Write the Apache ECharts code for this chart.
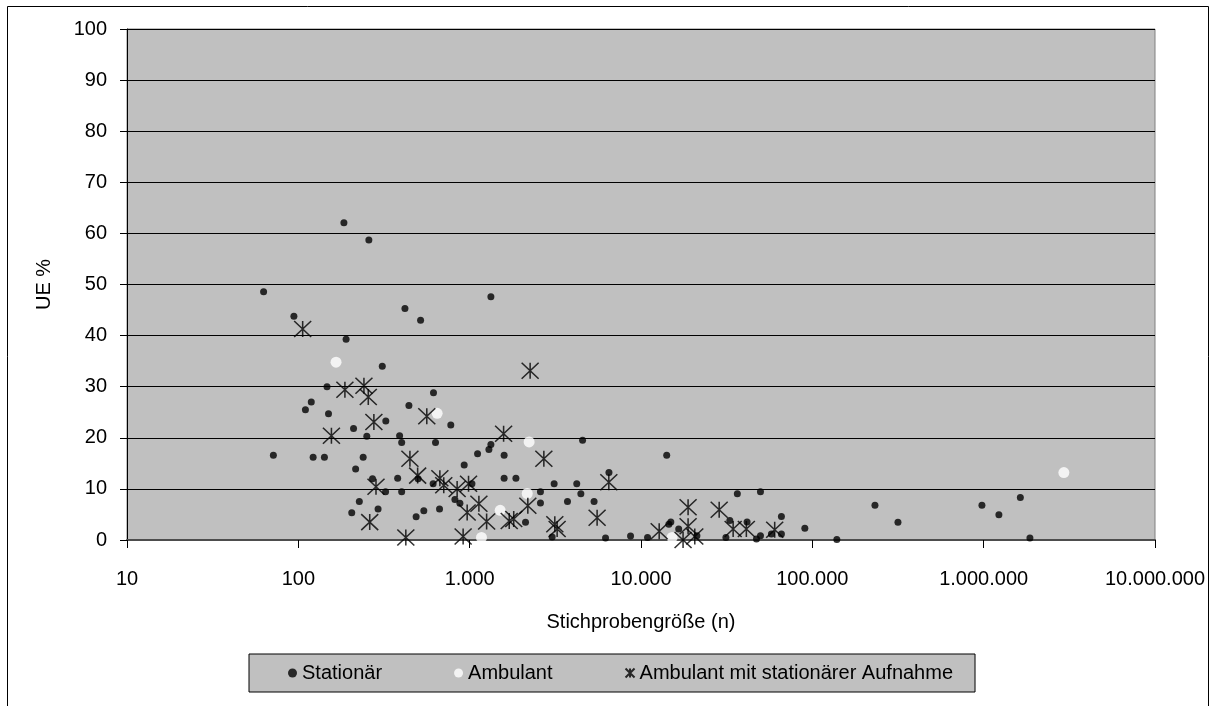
<!DOCTYPE html>
<html><head><meta charset="utf-8">
<script src="https://cdn.jsdelivr.net/npm/echarts@6/dist/echarts.min.js"></script>
<style>html,body{margin:0;padding:0;background:#fff}#c{width:1215px;height:706px}</style>
</head><body><div id="c"></div>
<script>
// ---- data ----
const seriesNames = ['Stationär', 'Ambulant', 'Ambulant mit stationärer Aufnahme'];
const xAxisTitle = 'Stichprobengröße (n)';
const yAxisTitle = 'UE %';
const xTickLabels = ['10', '100', '1.000', '10.000', '100.000', '1.000.000', '10.000.000'];
const yTickValues = [0, 10, 20, 30, 40, 50, 60, 70, 80, 90, 100];

// [Stichprobengröße n, UE %]
const stationaer = [
  [62.7, 48.6], [94.2, 43.8], [190, 39.3], [309, 34.0], [419, 45.3], [517, 43.0],
  [147, 30.0], [119, 27.0], [110, 25.5], [150, 24.7], [615, 28.8], [442, 26.3],
  [776, 22.5], [324, 23.3], [210, 21.8], [251, 20.3], [390, 20.4], [401, 19.1],
  [632, 19.1], [71.5, 16.6], [122, 16.2], [142, 16.2], [239, 16.2], [216, 13.9],
  [929, 14.7], [1112, 16.9], [500, 12.0], [271, 12.0], [380, 12.1], [612, 11.0],
  [1031, 11.0], [323, 9.45], [401, 9.45], [820, 7.95], [877, 7.2], [227, 7.55],
  [667, 6.07], [540, 5.73], [487, 4.56], [292, 6.07], [205, 5.34],
  [184.5, 62.1], [258, 58.7],
  [1330, 47.6], [1330, 18.7], [1295, 17.7], [4560, 19.5], [1589, 16.6], [14125, 16.6],
  [1589, 12.1], [1862, 12.1], [6500, 13.2], [3112, 11.0], [4217, 11.0], [4456, 9.06],
  [2589, 9.45], [2589, 7.24], [3724, 7.55], [5322, 7.55], [2118, 3.45], [3030, 0.6],
  [6210, 0.4], [8690, 0.8], [10920, 0.5], [14540, 3.1], [14930, 3.5], [16600, 2.15],
  [21200, 0.84], [33000, 3.8], [41600, 3.5], [36500, 9.06], [49800, 9.45], [31300, 0.5],
  [47200, 0.2], [49800, 0.84], [57700, 1.17], [66000, 1.17], [66000, 4.6], [90400, 2.3],
  [139000, 0.1], [232000, 6.8], [316000, 3.45], [977000, 6.8], [1227000, 4.95],
  [1637000, 8.3], [1862000, 0.4]
];
const ambulant = [
  [166, 34.8], [646, 24.8], [2223, 19.2], [2168, 9.1], [1507, 5.8], [1172, 0.5],
  [15190, 0.5], [2938000, 13.2]
];
const ambulantStationaer = [
  [106, 41.3], [187, 29.4], [241.5, 30.2], [256, 28.0], [562, 24.2], [276, 23.1],
  [156, 20.4], [448, 15.9], [497, 12.6], [670, 12.1], [706, 10.7], [845, 10.0],
  [985, 11.0], [284, 10.4], [967, 5.4], [261, 3.5], [424, 0.5], [916, 0.7],
  [2254, 33.1], [1578, 20.8], [2710, 15.9], [6488, 11.3], [2185, 6.7], [1132, 7.1],
  [1256, 3.6], [1702, 3.7], [1808, 4.1], [3140, 3.1], [3240, 2.15], [5544, 4.36],
  [12770, 1.7], [18830, 6.4], [18830, 2.7], [17600, 0], [20600, 0.7], [28600, 5.9],
  [34500, 2.15], [41200, 2.15], [60300, 2.0]
];

// ---- chart ----
const FONT = "'Liberation Sans', Arial, sans-serif";
const FS = 20;
const STAR = 'path://M0,0L16,16M16,0L0,16M8,0L8,16';
const chart = echarts.init(document.getElementById('c'), null, {renderer: 'canvas'});
chart.setOption({
  animation: false,
  backgroundColor: '#ffffff',
  graphic: [{
    type: 'rect', silent: true, z: 100,
    shape: {x: 7.5, y: 6.5, width: 1201, height: 730},
    style: {fill: 'none', stroke: '#000', lineWidth: 1}
  }],
  grid: {
    left: 127, right: 60, top: 29, bottom: 166, containLabel: false,
    show: true, backgroundColor: '#c0c0c0', borderColor: '#808080', borderWidth: 1
  },
  xAxis: {
    type: 'log', logBase: 10, min: 10, max: 10000000,
    name: xAxisTitle, nameLocation: 'middle', nameGap: 72,
    nameTextStyle: {fontFamily: FONT, fontSize: FS, color: '#000'},
    axisLine: {show: true, onZero: false, lineStyle: {color: '#4d4d4d', width: 2}},
    axisTick: {show: true, inside: false, length: 8, lineStyle: {color: '#000', width: 1}},
    minorTick: {show: false},
    splitLine: {show: false},
    axisLabel: {
      fontFamily: FONT, fontSize: FS, color: '#000', margin: 29,
      formatter: v => xTickLabels[Math.round(Math.log10(v)) - 1]
    }
  },
  yAxis: {
    type: 'value', min: yTickValues[0], max: yTickValues[yTickValues.length - 1], interval: 10,
    name: yAxisTitle, nameLocation: 'middle', nameGap: 73, nameRotate: 90,
    nameTextStyle: {fontFamily: FONT, fontSize: FS, color: '#000'},
    axisLine: {show: true, lineStyle: {color: '#000', width: 1}},
    axisTick: {show: true, inside: false, length: 7, lineStyle: {color: '#000', width: 1}},
    splitLine: {show: true, lineStyle: {color: '#000', width: 1}},
    axisLabel: {fontFamily: FONT, fontSize: FS, color: '#000', margin: 20}
  },
  legend: {
    left: 249, top: 654,
    padding: [9, 22, 9, 39], itemGap: 72,
    itemWidth: 9, itemHeight: 9,
    backgroundColor: '#c0c0c0', borderColor: '#000', borderWidth: 1,
    textStyle: {fontFamily: FONT, fontSize: FS, color: '#000'},
    data: [
      {name: seriesNames[0]},
      {name: seriesNames[1]},
      {name: seriesNames[2]}
    ]
  },
  series: [
    {
      name: seriesNames[0], type: 'scatter', data: stationaer, clip: false,
      symbol: 'circle', symbolSize: 7,
      itemStyle: {color: '#000'}
    },
    {
      name: seriesNames[1], type: 'scatter', data: ambulant, clip: false,
      symbol: 'circle', symbolSize: 11,
      itemStyle: {color: '#fff'}
    },
    {
      name: seriesNames[2], type: 'scatter', data: ambulantStationaer, clip: false,
      symbol: STAR, symbolSize: [17, 16],
      itemStyle: {color: 'rgba(0,0,0,0)', borderColor: '#000', borderWidth: 1.5}
    }
  ]
});
</script>
</body></html>
